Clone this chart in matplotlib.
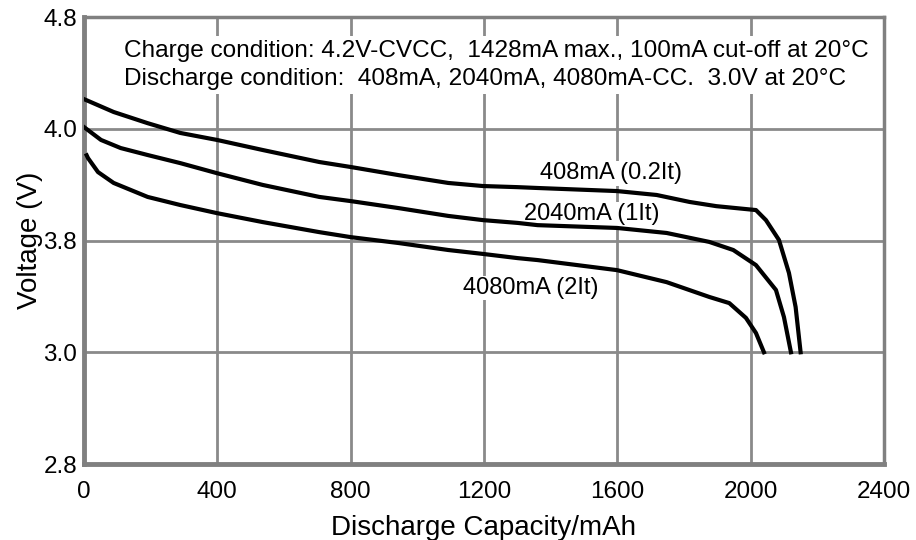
import matplotlib.pyplot as plt

plt.rcParams['font.family'] = ['Liberation Sans', 'DejaVu Sans']

# Discharge capacity (mAh) and voltage
cap_408 = [0, 6, 89, 191, 289, 399, 536, 706, 801, 944, 1093, 1197, 1301, 1361, 1599, 1718,
           1817, 1897, 2016, 2046, 2085, 2115, 2135, 2150]
volt_408 = [4.106, 4.103, 4.060, 4.020, 3.985, 3.960, 3.924, 3.881, 3.863, 3.834, 3.806, 3.795,
            3.791, 3.788, 3.777, 3.763, 3.738, 3.723, 3.709, 3.673, 3.602, 3.484, 3.362, 3.2]

cap_2040 = [0, 51, 110, 191, 289, 399, 536, 706, 801, 944, 1093, 1197, 1301, 1361, 1599, 1748,
            1876, 1948, 2016, 2076, 2100, 2121]
volt_2040 = [4.006, 3.960, 3.931, 3.906, 3.877, 3.841, 3.799, 3.756, 3.741, 3.716, 3.688, 3.673,
             3.663, 3.655, 3.645, 3.627, 3.595, 3.566, 3.512, 3.423, 3.326, 3.2]

cap_4080 = [8, 12, 42, 89, 191, 289, 399, 536, 706, 801, 944, 1093, 1197, 1301, 1361, 1599, 1748,
            1876, 1936, 1986, 2016, 2040]
volt_4080 = [3.905, 3.895, 3.845, 3.806, 3.756, 3.727, 3.698, 3.666, 3.630, 3.612, 3.591, 3.566,
             3.552, 3.537, 3.530, 3.494, 3.451, 3.398, 3.376, 3.323, 3.269, 3.2]

curve_labels = ['408mA (0.2It)', '2040mA (1It)', '4080mA (2It)']
label_pos = [(1580, 3.84), (1522, 3.695), (1340, 3.43)]

x_ticks = [0, 400, 800, 1200, 1600, 2000, 2400]
y_ticks = [2.8, 3.2, 3.6, 4.0, 4.4]
y_tick_labels = ['2.8', '3.0', '3.8', '4.0', '4.8']  # as printed on the original

fig = plt.figure(figsize=(9.16, 5.4), dpi=100)
ax = fig.add_axes([0.0917, 0.1407, 0.8733, 0.8278])

grid_col = '#8a8a8a'
for xt in x_ticks[1:-1]:
    ax.axvline(xt, color=grid_col, lw=2, zorder=1)
for yt in y_ticks[1:-1]:
    ax.axhline(yt, color=grid_col, lw=2, zorder=1)

ax.plot(cap_408, volt_408, color='black', lw=3, zorder=3)
ax.plot(cap_2040, volt_2040, color='black', lw=3, zorder=3)
ax.plot(cap_4080, volt_4080, color='black', lw=3, zorder=3)

for txt, (lx, ly) in zip(curve_labels, label_pos):
    ax.text(lx, ly, txt, fontsize=17, ha='center', va='center', zorder=2,
            bbox=dict(facecolor='white', edgecolor='none', pad=1))

ax.text(0.05, 0.893, 'Charge condition: 4.2V-CVCC,  1428mA max., 100mA cut-off at 20\u00b0C\n'
        'Discharge condition:  408mA, 2040mA, 4080mA-CC.  3.0V at 20\u00b0C',
        transform=ax.transAxes, fontsize=17.6, ha='left', va='center', linespacing=1.32,
        multialignment='left', zorder=2,
        bbox=dict(facecolor='white', edgecolor='none', pad=3))

ax.set_xlim(0, 2400)
ax.set_ylim(2.8, 4.4)
ax.set_xticks(x_ticks)
ax.set_yticks(y_ticks)
ax.set_yticklabels(y_tick_labels)
ax.tick_params(length=0, labelsize=17.5, pad=5)
ax.tick_params(axis='x', pad=12)

for side in ['left', 'bottom']:
    ax.spines[side].set_linewidth(3.5)
for side in ['top', 'right']:
    ax.spines[side].set_linewidth(2.5)
for sp in ax.spines.values():
    sp.set_color('#808080')

ax.set_xlabel('Discharge Capacity/mAh', fontsize=20, labelpad=9)
ax.set_ylabel('Voltage (V)', fontsize=20, labelpad=0)

fig.savefig('out.png', dpi=100)
